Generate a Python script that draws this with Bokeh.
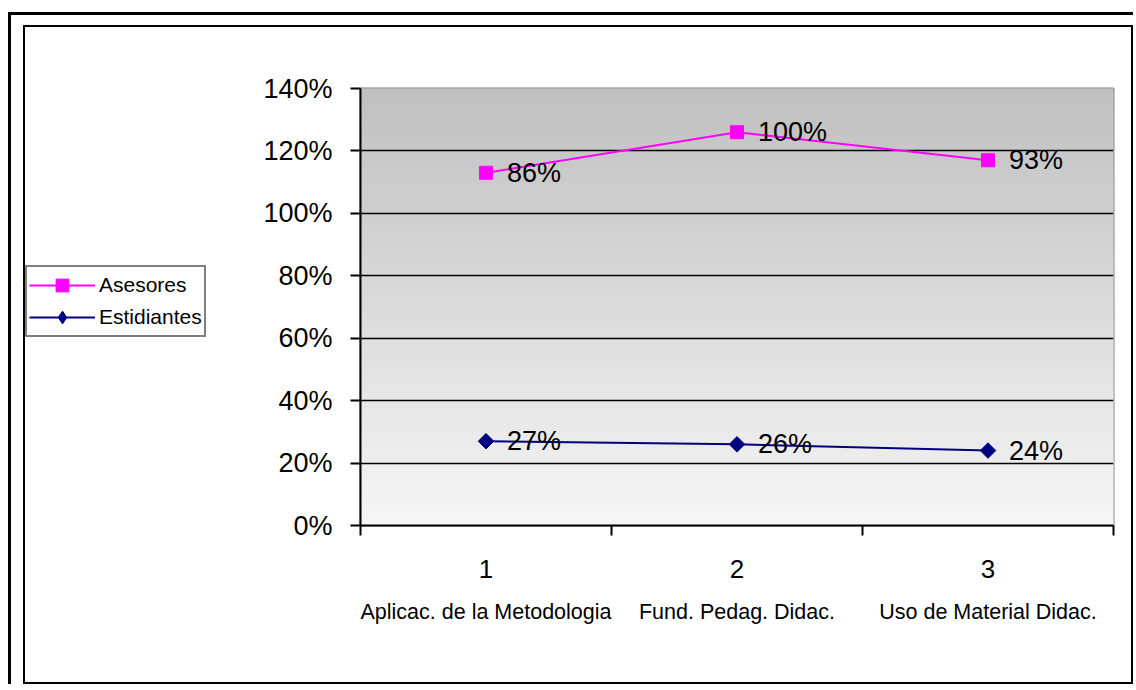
import numpy as np
from bokeh.plotting import figure
from bokeh.models import Range1d, FixedTicker, LinearAxis, Legend, LegendItem
from bokeh.layouts import column, row
from bokeh.embed import file_html
from bokeh.resources import INLINE
from bokeh.core.properties import value

# ---- data ----
categories = ["Aplicac. de la Metodologia", "Fund. Pedag. Didac.", "Uso de Material Didac."]
category_numbers = ["1", "2", "3"]
estudiantes = [27, 26, 24]      # series "Estidiantes"
asesores = [86, 100, 93]        # series "Asesores" (stacked on top of Estidiantes)
y_ticks = [0, 20, 40, 60, 80, 100, 120, 140]

FONT = "Liberation Sans"
H = 655
LEG_W = 225
W = 1106 - LEG_W
ASE_COLOR = "#FF00FF"
EST_COLOR = "#000080"

x = np.arange(1, len(categories) + 1)
est = np.array(estudiantes)
ase_stacked = est + np.array(asesores)

p = figure(width=W, height=H, x_range=Range1d(0.5, len(categories) + 0.5),
           y_range=Range1d(y_ticks[0], y_ticks[-1]),
           output_backend="svg", toolbar_location=None,
           min_border_left=110, min_border_right=18, min_border_top=61, min_border_bottom=157)
p.background_fill_color = "white"
p.border_fill_color = "white"
p.outline_line_color = "#808080"
p.outline_line_width = 2

# gradient plot-area background (grey at top, near white at bottom)
nb = 56
edges = np.linspace(y_ticks[0], y_ticks[-1], nb + 1)
mids = (edges[:-1] + edges[1:]) / 2
shades = (246 - (mids - y_ticks[0]) / (y_ticks[-1] - y_ticks[0]) * 54).astype(int)
band_colors = ["#%02x%02x%02x" % (s, s, s) for s in shades]
p.quad(left=p.x_range.start, right=p.x_range.end, bottom=edges[:-1], top=edges[1:],
       fill_color=band_colors, line_color=band_colors, line_width=1, level="image")

# grid
p.xgrid.visible = False
p.ygrid.ticker = FixedTicker(ticks=y_ticks[1:-1])
p.ygrid.grid_line_color = "black"
p.ygrid.grid_line_width = 1.5

# y axis
ya = p.yaxis[0]
ya.ticker = FixedTicker(ticks=y_ticks)
ya.major_label_overrides = {t: f"{t}%" for t in y_ticks}
ya.major_label_text_font = FONT
ya.major_label_text_font_size = "27px"
ya.major_label_text_color = "black"
ya.major_tick_out = 10
ya.major_tick_in = 0
ya.major_tick_line_color = "black"
ya.major_tick_line_width = 2
ya.minor_tick_line_color = None
ya.axis_line_color = "black"
ya.axis_line_width = 2
ya.major_label_standoff = 18

# x axis (numbers), ticks between categories
xa = p.xaxis[0]
xa.ticker = FixedTicker(ticks=list(x), minor_ticks=list(np.arange(0.5, len(categories) + 1, 1.0)))
xa.major_label_overrides = {int(i): n for i, n in zip(x, category_numbers)}
xa.major_label_text_font = FONT
xa.major_label_text_font_size = "26px"
xa.major_label_text_color = "black"
xa.major_tick_line_color = None
xa.major_tick_out = 0
xa.major_tick_in = 0
xa.minor_tick_out = 10
xa.minor_tick_in = 0
xa.minor_tick_line_color = "black"
xa.minor_tick_line_width = 2
xa.axis_line_color = "black"
xa.axis_line_width = 2
xa.major_label_standoff = 24

# second x axis (category names)
xb = LinearAxis(ticker=FixedTicker(ticks=list(x)),
                major_label_overrides={int(i): c for i, c in zip(x, categories)})
xb.major_label_text_font = FONT
xb.major_label_text_font_size = "21.5px"
xb.major_label_text_color = "black"
xb.axis_line_color = None
xb.major_tick_line_color = None
xb.minor_tick_line_color = None
xb.major_tick_out = 0
xb.major_tick_in = 0
xb.major_label_standoff = 19
p.add_layout(xb, "below")

# series
p.line(x, ase_stacked, line_color=ASE_COLOR, line_width=2)
p.scatter(x, ase_stacked, marker="square", size=13, fill_color=ASE_COLOR, line_color=ASE_COLOR)
p.line(x, est, line_color=EST_COLOR, line_width=2)
p.scatter(x, est, marker="square", angle=np.pi / 4, size=11, fill_color=EST_COLOR, line_color=EST_COLOR)

p.text(x, ase_stacked, text=[f"{v}%" for v in asesores], x_offset=21,
       text_baseline="middle", text_align="left", text_font=value(FONT),
       text_font_size="27px", text_color="black")
p.text(x, est, text=[f"{v}%" for v in estudiantes], x_offset=21,
       text_baseline="middle", text_align="left", text_font=value(FONT),
       text_font_size="27px", text_color="black")

# ---- legend panel (separate figure to the left of the chart) ----
pl = figure(width=LEG_W, height=H, x_range=Range1d(-1, 0), y_range=Range1d(-1, 0),
            output_backend="svg", toolbar_location=None, min_border=0,
            x_axis_location=None, y_axis_location=None)
pl.outline_line_color = None
pl.grid.visible = False
pl.background_fill_color = "white"
pl.border_fill_color = "white"
# same series, outside the visible range: used only as legend glyphs
la_line = pl.line(x, ase_stacked, line_color=ASE_COLOR, line_width=2)
la_pts = pl.scatter(x, ase_stacked, marker="square", fill_color=ASE_COLOR, line_color=ASE_COLOR)
le_line = pl.line(x, est, line_color=EST_COLOR, line_width=2)
le_pts = pl.scatter(x, est, marker="diamond", fill_color=EST_COLOR, line_color=EST_COLOR)

legend = Legend(items=[LegendItem(label="Asesores", renderers=[la_line, la_pts]),
                       LegendItem(label="Estidiantes", renderers=[le_line, le_pts])],
                location=(0, 188))
legend.border_line_color = "black"
legend.border_line_width = 2
legend.background_fill_color = "white"
legend.background_fill_alpha = 1
legend.label_text_font = FONT
legend.label_text_font_size = "21px"
legend.label_text_color = "black"
legend.glyph_width = 66
legend.glyph_height = 32
legend.label_height = 20
legend.label_standoff = 4
legend.padding = 2
legend.spacing = 0
legend.margin = 0
pl.add_layout(legend)

inner = column(row(pl, p), styles={"border": "2px solid black"})
outer = column(inner, styles={"border-left": "3px solid black", "border-top": "3px solid black",
                              "padding-left": "12px", "padding-top": "10px",
                              "margin-top": "12px", "margin-left": "8px"})

open("out.html", "w").write(file_html(outer, INLINE))
